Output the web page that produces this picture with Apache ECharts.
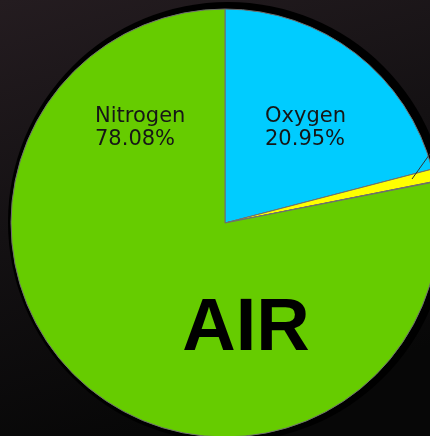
<!DOCTYPE html>
<html style="height: 100%">
<head>
<meta charset="utf-8"/>
<script src="https://cdn.jsdelivr.net/npm/echarts@6/dist/echarts.min.js"></script>
</head>
<body style="height: 100%; margin: 0">
<div id="container" style="width: 430px; height: 436px"></div>
<script>
// composition of air, in percent
var gases = ['Oxygen', 'Argon', 'Others', 'Nitrogen'];
var shares = [20.95, 0.93, 0.04, 78.08];
var colors = ['#00ccff', '#ffff00', '#ff9900', '#66cc00'];
var title = 'AIR';

// where the inside labels sit (left, top)
var labelSpots = {
	Nitrogen: [95, 105],
	Oxygen: [265, 105]
};

var myChart = echarts.init(document.getElementById('container'));

var pieData = [];
for (var i = 0; i < gases.length; i++) {
	pieData.push({
		name: gases[i],
		value: shares[i],
		itemStyle: { color: colors[i] },
		label: { show: labelSpots[gases[i]] != null }
	});
}

var option = {
	backgroundColor: {
		type: 'linear', x: 0, y: 0, x2: 0.3, y2: 1,
		colorStops: [
			{ offset: 0, color: '#241c20' },
			{ offset: 0.5, color: '#141113' },
			{ offset: 1, color: '#070707' }
		]
	},
	graphic: [{
		// dark rim behind the pie
		type: 'circle',
		z: -1,
		silent: true,
		shape: { cx: 228, cy: 222, r: 220 },
		style: { fill: '#000' }
	}, {
		// leader line of the thin Argon slice
		type: 'polyline',
		z: 100,
		silent: true,
		shape: { points: [[412, 179], [432, 151]] },
		style: { stroke: '#333', lineWidth: 1, fill: null }
	}, {
		type: 'text',
		z: 100,
		x: 246,
		y: 330,
		style: {
			text: title,
			align: 'center',
			verticalAlign: 'middle',
			font: 'bold 74px "Liberation Sans", Arial, sans-serif',
			fill: '#000'
		}
	}],
	series: [{
		type: 'pie',
		center: [225, 223],
		radius: 214,
		startAngle: 90,
		clockwise: true,
		avoidLabelOverlap: false,
		animation: false,
		itemStyle: { borderColor: '#6f6f6f', borderWidth: 1 },
		label: {
			position: 'inside',
			formatter: '{b}\n{c}%',
			fontFamily: 'DejaVu Sans',
			fontSize: 21,
			lineHeight: 23,
			color: '#161616'
		},
		labelLine: { show: false },
		labelLayout: function (params) {
			var spot = labelSpots[pieData[params.dataIndex].name];
			if (!spot) return {};
			return {
				x: spot[0],
				y: spot[1],
				align: 'left',
				verticalAlign: 'top'
			};
		},
		data: pieData
	}]
};

myChart.setOption(option);
</script>
</body>
</html>
